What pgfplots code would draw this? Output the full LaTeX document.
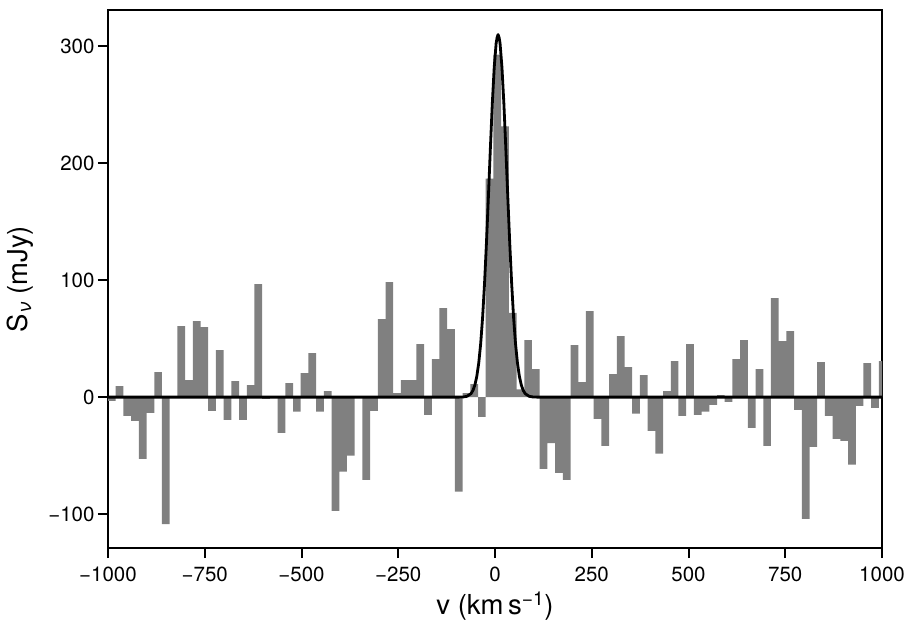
\documentclass[border=0pt]{standalone}
\usepackage{pgfplots}
\pgfplotsset{compat=1.18}
\usepackage{fontspec}
\setmainfont{TeX Gyre Heros}
\begin{document}
\begin{tikzpicture}
\path (-108pt,-81pt) rectangle (808pt,548pt);
\begin{axis}[
  at={(0,0)}, anchor=south west,
  scale only axis, width=774pt, height=538pt,
  xmin=-1000, xmax=1000, ymin=-129, ymax=331,
  xtick={-1000,-750,-500,-250,0,250,500,750,1000},
  xticklabels={−1000,−750,−500,−250,0,250,500,750,1000},
  ytick={-100,0,100,200,300},
  yticklabels={−100,0,100,200,300},
  xtick pos=left, ytick pos=left,
  tick align=outside,
  major tick length=10pt,
  every tick/.style={black, line width=2pt},
  axis line style={line width=2.2pt},
  tick label style={font=\fontsize{20.5}{24}\selectfont},
  xticklabel style={yshift=-5pt},
  label style={font=\fontsize{27.5}{32}\selectfont},
  xlabel={v (km\,s\textsuperscript{−1})},
  ylabel={S\textsubscript{\itshape ν} (mJy)},
  xlabel style={at={(axis description cs:0.5,0)}, anchor=center, yshift=-58pt},
  ylabel style={at={(axis description cs:-0.1137,0.5)}, anchor=center},
]
\addplot[ybar, bar width=19.92, bar shift=0pt, fill={rgb,255:red,128;green,128;blue,128}, draw=none] coordinates {
(-990.0,-3.1) (-970.1,9.4) (-950.2,-16) (-930.3,-20.2) (-910.4,-52.7)
(-890.4,-13.4) (-870.5,21.4) (-850.6,-108.5) (-830.7,0) (-810.8,60.7)
(-790.8,14.5) (-770.9,65) (-751.0,59.8) (-731.1,-11.7) (-711.2,40.2)
(-691.2,-19.4) (-671.3,13.7) (-651.4,-19.4) (-631.5,10.3) (-611.6,96.6)
(-591.6,-1.4) (-571.7,0) (-551.8,-30.5) (-531.9,12) (-512.0,-12.5)
(-492.0,20.5) (-472.1,37.6) (-452.2,-12.5) (-432.3,5.1) (-412.4,-97.2)
(-392.4,-63.8) (-372.5,-50.1) (-352.6,0) (-332.7,-70.7) (-312.8,-11.7)
(-292.8,66.7) (-272.9,98.3) (-253.0,3.4) (-233.1,14.5) (-213.2,14.5)
(-193.2,45.3) (-173.3,-15.1) (-153.4,32.5) (-133.5,76) (-113.6,58.1)
(-93.6,-80.9) (-73.7,3.4) (-53.8,11.1) (-33.9,-16.8) (-14.0,186.9)
(6.0,292.9) (25.9,231.6) (45.8,72) (65.7,6.6) (85.6,48.7)
(105.6,23.9) (125.5,-61.3) (145.4,-39.3) (165.3,-64.7) (185.2,-70.7)
(205.2,44.4) (225.1,12.8) (245.0,73.5) (264.9,-18.5) (284.8,-41.6)
(304.8,19.7) (324.7,52.1) (344.6,25.6) (364.5,-14.2) (384.4,18.8)
(404.4,-28.8) (424.3,-48.4) (444.2,5.1) (464.1,30.8) (484.0,-16)
(504.0,45.3) (523.9,-15.1) (543.8,-12.5) (563.7,-6.6) (583.6,1.7)
(603.6,-4) (623.5,32.5) (643.4,48.7) (663.3,-26.2) (683.2,23.9)
(703.2,-41.6) (723.1,84.6) (743.0,47.9) (762.9,56.4) (782.8,-10.8)
(802.8,-104) (822.7,-42.5) (842.6,29.9) (862.5,-16) (882.4,-35.6)
(902.4,-37.3) (922.3,-57.8) (942.2,-7.4) (962.1,29.1) (982.0,-9.1)
(1002.0,30.8)
};
\addplot[black, line width=2.8pt, line join=round] coordinates {
(-1000,0) (-100,0) (-92,0.02) (-82,0.15) (-72,0.73) (-62,3.0) (-57,5.7)
(-52,10.3) (-47,17.8) (-42,29.2) (-37,45.7) (-32,68.3) (-27,97.4)
(-22,132.4) (-17,171.7) (-12,212.4) (-7,250.6) (-2,282.0) (3,302.7)
(5.5,307.6) (8,310) (10.5,307.6) (13,302.7) (18,282.0) (23,250.6)
(28,212.4) (33,171.7) (38,132.4) (43,97.4) (48,68.3) (53,45.7) (58,29.2)
(63,17.8) (68,10.3) (73,5.7) (78,3.0) (88,0.73) (98,0.15) (108,0.02)
(116,0) (1000,0)
};
\end{axis}
\end{tikzpicture}
\end{document}
